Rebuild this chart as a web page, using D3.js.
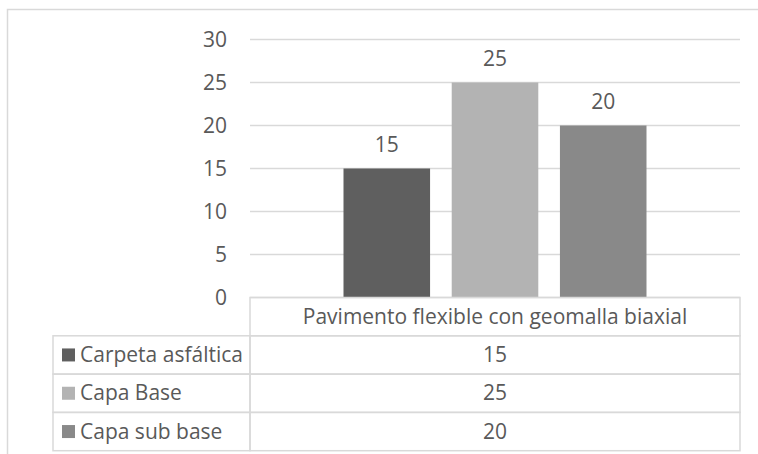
<!DOCTYPE html>
<html>
<head>
<meta charset="utf-8">
<script src="https://cdn.jsdelivr.net/npm/d3@7"></script>
<style>
  body { margin: 0; background: #fff; }
  text { font-family: "Open Sans", "Liberation Sans", Arial, sans-serif; fill: #595959; }
</style>
</head>
<body>
<svg id="chart"></svg>
<script>
// data
const categories = ["Pavimento flexible con geomalla biaxial"];
const seriesNames = ["Carpeta asfáltica", "Capa Base", "Capa sub base"];
const seriesValues = [15, 25, 20];
const yTicks = [0, 5, 10, 15, 20, 25, 30];
const seriesColors = ["#5f5f5f", "#b3b3b3", "#898989"];

const W = 758, H = 454;
const fontSize = 21;
const fontFamily = "Open Sans, Liberation Sans, Arial, sans-serif";

const svg = d3.select("#chart").attr("width", W).attr("height", H);

// outer chart border (cut off at right and bottom)
svg.append("rect")
  .attr("x", 7.5).attr("y", 9.5)
  .attr("width", 800).attr("height", 500)
  .attr("fill", "none").attr("stroke", "#d9d9d9").attr("stroke-width", 1.5);

// plot area
const plot = {left: 250, right: 740, top: 39.5, bottom: 297.5};

var y = d3.scaleLinear()
  .domain([0, 30])
  .range([plot.bottom, plot.top]);

var x0 = d3.scaleBand()
  .domain(categories)
  .range([plot.left, plot.right]);

// gridlines
svg.append("g")
  .selectAll("line")
  .data(yTicks)
  .join("line")
    .attr("x1", plot.left).attr("x2", plot.right)
    .attr("y1", d => y(d)).attr("y2", d => y(d))
    .attr("stroke", "#d9d9d9").attr("stroke-width", 1.5);

// y axis labels
const yAxis = svg.append("g")
  .attr("transform", "translate(" + (plot.left - 12) + ",0)")
  .call(d3.axisLeft(y).tickValues(yTicks).tickSize(0).tickPadding(11));
yAxis.select(".domain").remove();
yAxis.selectAll("text")
  .attr("font-size", fontSize)
  .attr("font-family", fontFamily)
  .attr("fill", "#595959");

// bars
const groupFrac = 303 / 490;
categories.forEach(cat => {
  const bw = x0.bandwidth();
  const gx = x0(cat) + bw * (1 - groupFrac) / 2;
  var x1 = d3.scaleBand()
    .domain(seriesNames)
    .range([gx, gx + bw * groupFrac])
    .paddingInner(0.2);

  const g = svg.append("g");
  g.selectAll("rect")
    .data(seriesNames)
    .join("rect")
      .attr("x", d => x1(d))
      .attr("y", (d, i) => y(seriesValues[i]))
      .attr("width", x1.bandwidth())
      .attr("height", (d, i) => y(0) - y(seriesValues[i]))
      .attr("fill", (d, i) => seriesColors[i]);

  g.selectAll("text")
    .data(seriesNames)
    .join("text")
      .attr("x", d => x1(d) + x1.bandwidth() / 2)
      .attr("y", (d, i) => y(seriesValues[i]) - 17)
      .attr("text-anchor", "middle")
      .attr("font-size", fontSize)
      .text((d, i) => seriesValues[i]);
});

// data table
const rowH = 38.3;
const tableLeft = 53;
const tableTop = plot.bottom;
const lineColor = "#d9d9d9";
const table = svg.append("g");

// header cell
table.append("rect")
  .attr("x", plot.left).attr("y", tableTop)
  .attr("width", plot.right - plot.left).attr("height", rowH)
  .attr("fill", "none").attr("stroke", lineColor).attr("stroke-width", 1.5);
table.append("text")
  .attr("x", x0(categories[0]) + x0.bandwidth() / 2)
  .attr("y", tableTop + rowH / 2 + 7)
  .attr("text-anchor", "middle")
  .attr("font-size", fontSize)
  .text(categories[0]);

const rows = table.selectAll("g.row")
  .data(seriesNames)
  .join("g")
    .attr("class", "row")
    .attr("transform", (d, i) => "translate(0," + (tableTop + rowH * (i + 1)) + ")");

rows.append("rect")
  .attr("x", tableLeft).attr("y", 0)
  .attr("width", plot.left - tableLeft).attr("height", rowH)
  .attr("fill", "none").attr("stroke", lineColor).attr("stroke-width", 1.5);
rows.append("rect")
  .attr("x", plot.left).attr("y", 0)
  .attr("width", plot.right - plot.left).attr("height", rowH)
  .attr("fill", "none").attr("stroke", lineColor).attr("stroke-width", 1.5);
rows.append("rect")
  .attr("x", 62).attr("y", rowH / 2 - 6.5)
  .attr("width", 13).attr("height", 13)
  .attr("fill", (d, i) => seriesColors[i]);
rows.append("text")
  .attr("x", 80).attr("y", rowH / 2 + 7)
  .attr("font-size", fontSize)
  .text(d => d);
rows.append("text")
  .attr("x", x0(categories[0]) + x0.bandwidth() / 2)
  .attr("y", rowH / 2 + 7)
  .attr("text-anchor", "middle")
  .attr("font-size", fontSize)
  .text((d, i) => seriesValues[i]);
</script>
</body>
</html>
